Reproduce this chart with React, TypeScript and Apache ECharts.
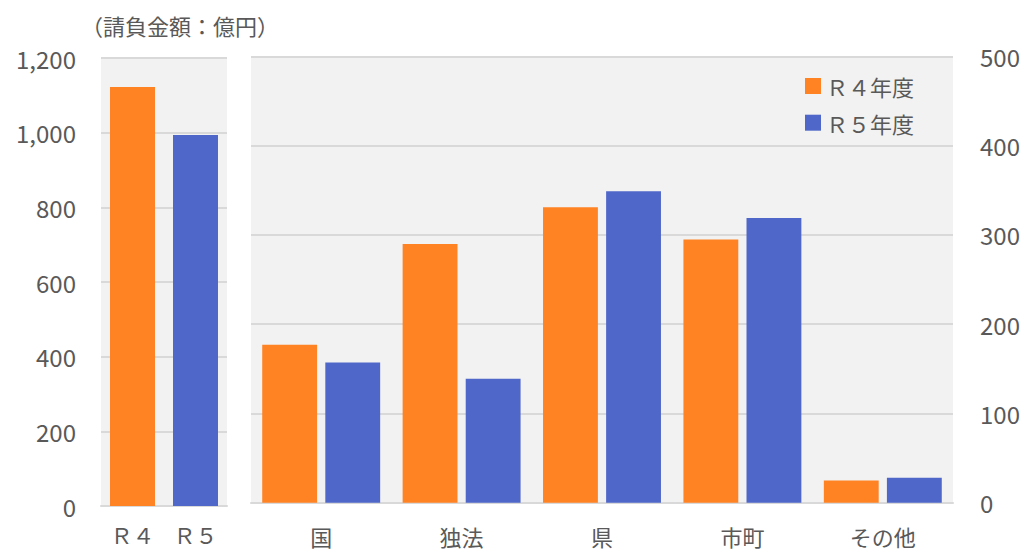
import React, { useEffect, useRef } from "react";
import * as echarts from "echarts";

// Totals by fiscal year (億円)
const totalCategories = ["Ｒ４", "Ｒ５"];
const totalValues = [1122, 994];

// Breakdown by orderer (億円)
const ordererCategories = ["国", "独法", "県", "市町", "その他"];
const r4Values = [177, 290, 331, 295, 25];
const r5Values = [157, 139, 349, 319, 28];
const seriesNames = ["Ｒ４年度", "Ｒ５年度"];

const leftTicks = { min: 0, max: 1200, interval: 200 };
const rightTicks = { min: 0, max: 500, interval: 100 };

const ORANGE = "#FF8223";
const BLUE = "#4F67C8";
const TEXT = "#595959";
const GRID_LINE = "#D9D9D9";
const PANEL = "#F2F2F2";
const FONT = "'Noto Sans CJK JP', 'Noto Sans', sans-serif";

export default function App() {
  const ref = useRef<HTMLDivElement>(null);

  useEffect(() => {
    if (!ref.current) return;
    const chart = echarts.init(ref.current, null, { renderer: "svg" });
    const cjkLabel = { color: TEXT, fontSize: 22, lineHeight: 22, fontFamily: FONT };
    const numLabel = { color: TEXT, fontSize: 24, fontFamily: FONT };

    chart.setOption({
      animation: false,
      textStyle: { fontFamily: FONT },
      title: {
        text: "（請負金額：億円）",
        left: 81,
        top: 14,
        padding: 0,
        textStyle: { color: TEXT, fontSize: 22, fontWeight: "normal", fontFamily: FONT },
      },
      legend: {
        data: seriesNames,
        orient: "vertical",
        left: 805,
        top: 75,
        padding: 0,
        itemWidth: 16,
        itemHeight: 16,
        itemGap: 14.7,
        icon: "rect",
        textStyle: { color: TEXT, fontSize: 22, lineHeight: 22, fontFamily: FONT },
      },
      grid: [
        {
          left: 101,
          right: 1024 - 227,
          top: 58,
          bottom: 551 - 506,
          show: true,
          backgroundColor: PANEL,
          borderWidth: 0,
        },
        {
          left: 251,
          right: 1024 - 953,
          top: 56.5,
          bottom: 551 - 502.7,
          show: true,
          backgroundColor: PANEL,
          borderWidth: 0,
        },
      ],
      xAxis: [
        {
          type: "category",
          gridIndex: 0,
          data: totalCategories,
          axisTick: { show: false },
          axisLine: { show: true, lineStyle: { color: GRID_LINE, width: 2 } },
          axisLabel: { ...cjkLabel, margin: 17 },
        },
        {
          type: "category",
          gridIndex: 1,
          data: ordererCategories,
          axisTick: { show: false },
          axisLine: { show: true, lineStyle: { color: GRID_LINE, width: 2 } },
          axisLabel: { ...cjkLabel, margin: 22 },
        },
      ],
      yAxis: [
        {
          type: "value",
          gridIndex: 0,
          ...leftTicks,
          axisLine: { show: false },
          axisTick: { show: false },
          splitLine: { lineStyle: { color: GRID_LINE, width: 2 } },
          axisLabel: {
            ...numLabel,
            margin: 25,
            padding: [0, 0, 6, 0],
            formatter: (v: number) => v.toLocaleString("en-US"),
          },
        },
        {
          type: "value",
          gridIndex: 1,
          position: "right",
          ...rightTicks,
          axisLine: { show: false },
          axisTick: { show: false },
          splitLine: { lineStyle: { color: GRID_LINE, width: 2 } },
          axisLabel: { ...numLabel, margin: 27, padding: [0, 0, 6, 0] },
        },
      ],
      series: [
        {
          type: "bar",
          xAxisIndex: 0,
          yAxisIndex: 0,
          barCategoryGap: "28.6%",
          data: totalValues.map((v, i) => ({
            value: v,
            itemStyle: { color: i === 0 ? ORANGE : BLUE },
          })),
        },
        {
          name: seriesNames[0],
          type: "bar",
          xAxisIndex: 1,
          yAxisIndex: 1,
          barCategoryGap: "16%",
          barGap: "15%",
          itemStyle: { color: ORANGE },
          data: r4Values,
        },
        {
          name: seriesNames[1],
          type: "bar",
          xAxisIndex: 1,
          yAxisIndex: 1,
          barCategoryGap: "16%",
          barGap: "15%",
          itemStyle: { color: BLUE },
          data: r5Values,
        },
      ],
    });

    return () => chart.dispose();
  }, []);

  return (
    <div
      ref={ref}
      style={{ position: "absolute", left: 0, top: 0, width: 1024, height: 551, background: "#fff" }}
    />
  );
}
